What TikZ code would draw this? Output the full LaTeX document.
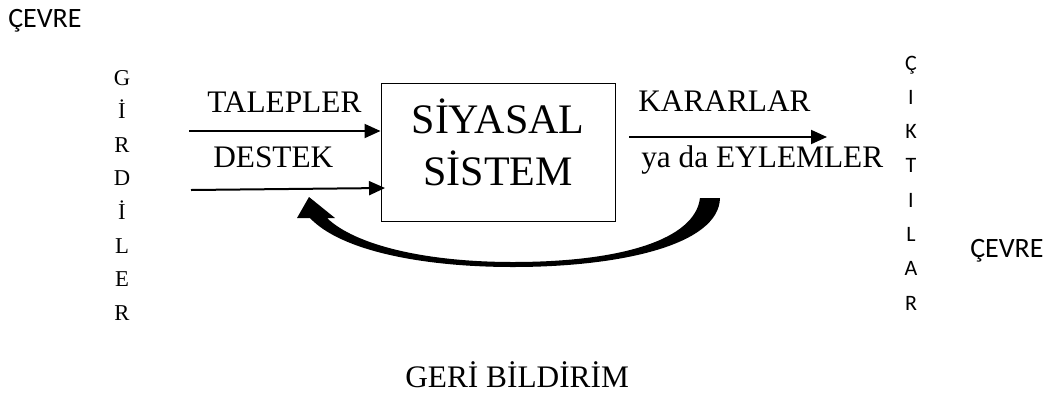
\documentclass[tikz,border=0pt]{standalone}
\usepackage{fontspec}
\setmainfont{Liberation Serif}
\newfontfamily\calibri{Carlito}
\usetikzlibrary{arrows.meta}

\begin{document}
\begin{tikzpicture}[x=0.75pt, y=-0.75pt,
        lbl/.style={inner sep=0pt, anchor=base west, font=\fontsize{23.5}{28}\selectfont},
        env/.style={inner sep=0pt, anchor=base west, font=\calibri\fontsize{21}{25}\selectfont},
        girdi/.style={inner sep=0pt, anchor=base, font=\fontsize{17}{20}\selectfont},
        cikti/.style={inner sep=0pt, anchor=base, font=\calibri\fontsize{16.5}{20}\selectfont},
        sys/.style={inner sep=0pt, anchor=base, font=\fontsize{31.5}{36}\selectfont},
        arr/.style={line width=1.5pt, -{Triangle[length=12pt, width=10.5pt]}}]
        \useasboundingbox (0,0) rectangle (1050,394);

        \node[env] (env1) at (8,27) {ÇEVRE};
        \node[env] (env2) at (970,257) {ÇEVRE};

        \foreach \c [count=\i] in {G,İ,R,D,İ,L,E,R}
            \node[girdi] (g\i) at (122, 85+33.6*\i-33.6) {\c};
        \foreach \c [count=\i] in {Ç,I,K,T,I,L,A,R}
            \node[cikti] (c\i) at (911, 70+34.3*\i-34.3) {\c};

        \node[draw, line width=0.75pt, inner sep=0pt, minimum width=175.5pt, minimum height=103.5pt] (box) at (498,152) {};
        \node[sys] (sys1) at (498,133) {SİYASAL};
        \node[sys] (sys2) at (498,185) {SİSTEM};

        \node[lbl] (talep) at (207,112) {TALEPLER};
        \node[lbl] (destek) at (213,167) {DESTEK};
        \node[lbl] (karar) at (638,111) {KARARLAR};
        \node[lbl] (eylem) at (641,167) {ya da EYLEMLER};
        \node[lbl] (geri) at (405,387) {GERİ BİLDİRİM};

        \coordinate (tin) at (189,131);
        \coordinate (din) at (191,190);
        \coordinate (dout) at (385,188);
        \coordinate (kin) at (629,137);
        \coordinate (kout) at (827,137);

        \draw[arr] (tin) -- (box.west |- tin);
        \draw[arr] (din) -- (dout);
        \draw[arr] (kin) -- (kout);

        % feedback
        \fill (700,198) -- (720,198)
            .. controls (719,245) and (620,267) .. (513,267)
            .. controls (420,267) and (340,250) .. (310,218)
            -- (297,218) -- (309,197) -- (335,218) -- (327,218)
            .. controls (355,245) and (425,262) .. (513,262)
            .. controls (620,262) and (695,240) .. (700,198) -- cycle;
    \end{tikzpicture}
\end{document}
